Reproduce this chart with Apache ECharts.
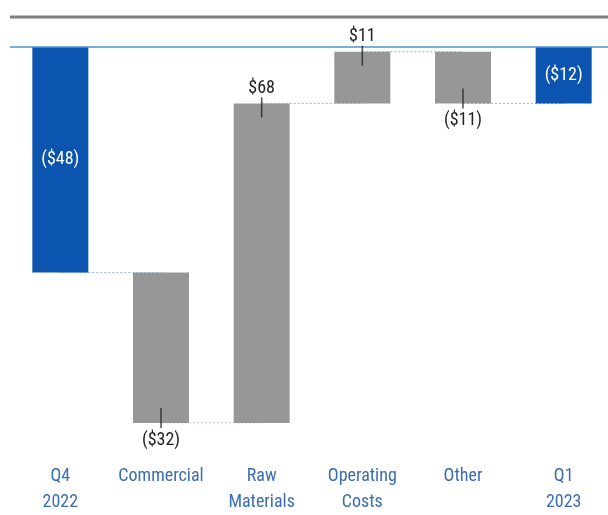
<!DOCTYPE html>
<html><head><meta charset="utf-8">
<script src="https://cdn.jsdelivr.net/npm/echarts@6/dist/echarts.min.js"></script>
<style>html,body{margin:0;padding:0;background:#fff;overflow:hidden}#c{width:614px;height:515px}</style>
</head><body><div id="c"></div>
<script>
// Data
var categories = ['Q4\n2022', 'Commercial', 'Raw\nMaterials', 'Operating\nCosts', 'Other', 'Q1\n2023'];
var deltas = [-48, -32, 68, 11, -11, -12];
var isTotal = [true, false, false, false, false, true];

var FONT = "'Roboto Condensed', 'Liberation Sans', sans-serif";
var BLUE = '#0b55b1', GRAY = '#979797';

var base = [], vis = [], ends = [], running = 0;
for (var i = 0; i < deltas.length; i++) {
  var s, e;
  if (isTotal[i]) { s = 0; e = deltas[i]; running = deltas[i]; }
  else { s = running; e = running + deltas[i]; running = e; }
  var hi = Math.max(s, e), lo = Math.min(s, e);
  base.push(hi);
  ends.push(e);
  vis.push({
    value: lo - hi,
    itemStyle: { color: isTotal[i] ? BLUE : GRAY },
    label: {
      show: true,
      position: isTotal[i] ? 'inside' : (deltas[i] > 0 ? 'top' : 'bottom'),
      distance: deltas[i] > 0 ? 6 : 8,
      color: isTotal[i] ? '#ffffff' : '#222222'
    }
  });
}
function fmt(v) { return v < 0 ? '($' + Math.abs(v) + ')' : '$' + v; }

var series = [
  { type: 'bar', stack: 'w', data: base, barWidth: 56, itemStyle: { color: 'transparent' }, silent: true, z: 3 },
  { type: 'bar', stack: 'w', data: vis, barWidth: 56, z: 3,
    label: { fontFamily: FONT, fontSize: 18, formatter: function (p) { return fmt(deltas[p.dataIndex]); } },
    markLine: { silent: true, symbol: 'none', label: { show: false },
      lineStyle: { color: '#4f93d2', width: 1.6, type: 'solid' }, data: [{ yAxis: 0 }] } }
];
for (var j = 0; j < deltas.length - 1; j++) {
  var lvl = ends[j];
  series.push({ type: 'line', data: [[j, lvl], [j + 1, lvl]], symbol: 'none', silent: true, z: 1,
    lineStyle: { color: '#8fb4df', width: 1, type: [2, 2] } });
}
var leaders = [];
for (var k = 0; k < deltas.length; k++) {
  if (!isTotal[k]) leaders.push({ value: [k, ends[k]], symbolOffset: [0, deltas[k] > 0 ? 4 : -5] });
}
series.push({ type: 'scatter', data: leaders, symbol: 'rect', symbolSize: [1.5, 20], silent: true, z: 5,
  itemStyle: { color: '#222' } });

var chart = echarts.init(document.getElementById('c'), null, { renderer: 'canvas' });
chart.setOption({
  backgroundColor: '#ffffff',
  animation: false,
  grid: { left: 10, right: 0, top: 47, bottom: 85 },
  xAxis: { type: 'category', data: categories, axisLine: { show: false }, axisTick: { show: false },
    axisLabel: { margin: 40, fontFamily: FONT, fontSize: 18, lineHeight: 26, color: '#3a6db3', interval: 0 } },
  yAxis: { type: 'value', min: -80, max: 0, show: false },
  graphic: [{ type: 'line', shape: { x1: 10, y1: 17, x2: 614, y2: 17 }, style: { stroke: '#7f7f7f', lineWidth: 3 } }],
  series: series
});
</script></body></html>
